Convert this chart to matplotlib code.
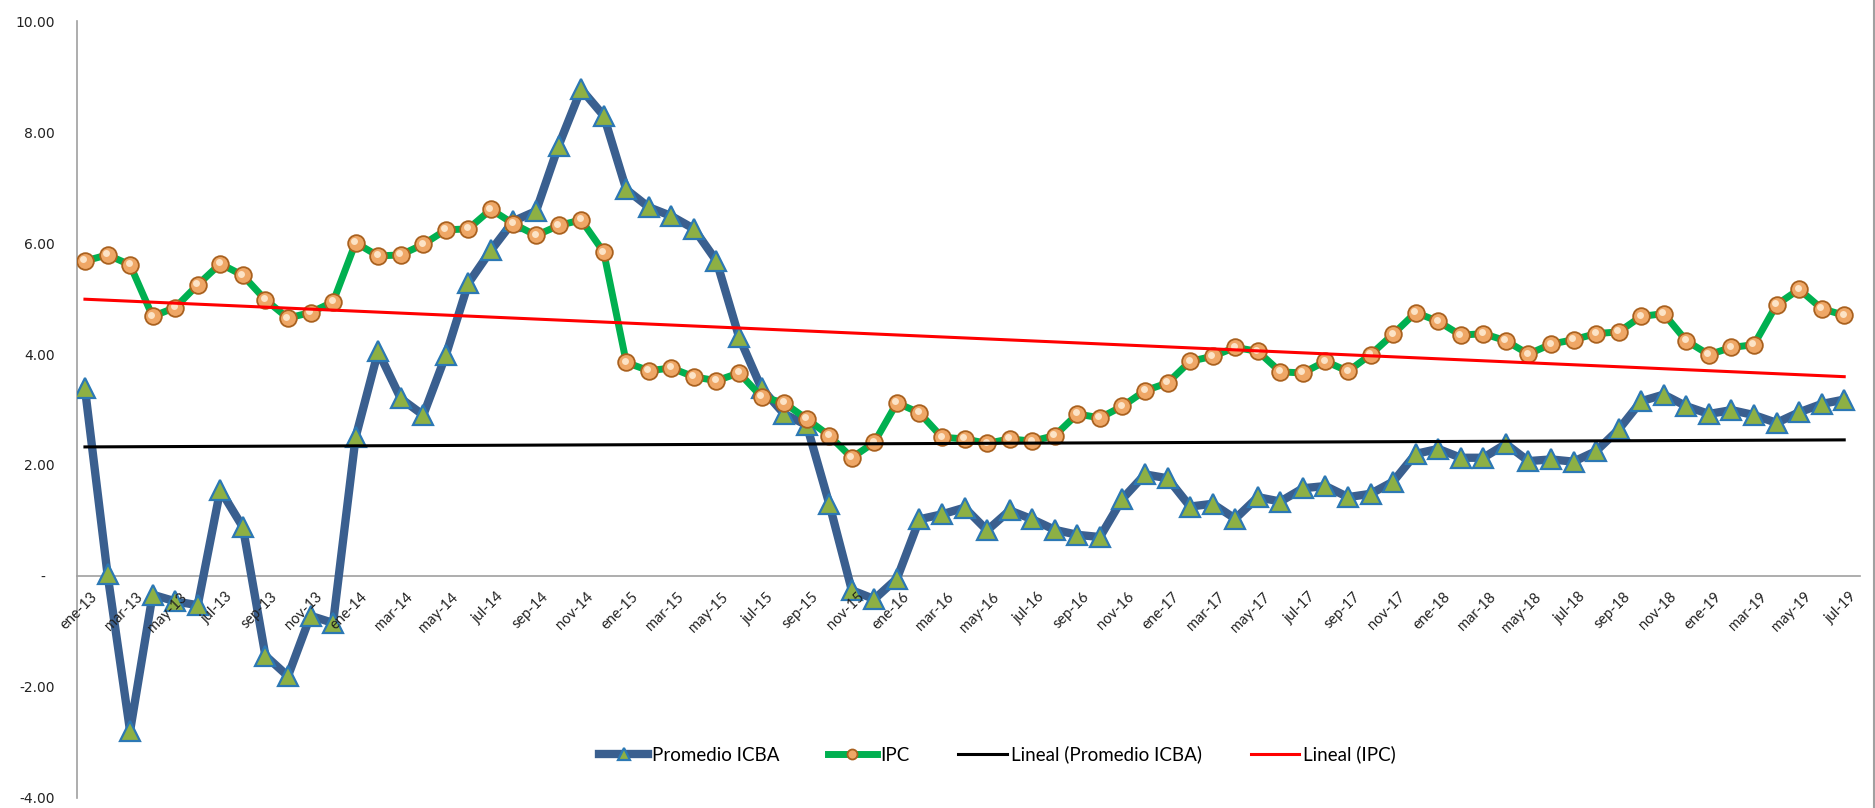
import numpy as np
import matplotlib
matplotlib.use("Agg")
import matplotlib.pyplot as plt
from matplotlib.transforms import ScaledTranslation

meses = ["ene", "feb", "mar", "abr", "may", "jun", "jul", "ago", "sep", "oct", "nov", "dic"]
categorias = [f"{meses[i % 12]}-{13 + i // 12}" for i in range(79)]

icba = [3.38, 0.03, -2.80, -0.34, -0.46, -0.53, 1.55, 0.88, -1.44, -1.81, -0.72, -0.85,
        2.50, 4.05, 3.20, 2.90, 3.98, 5.28, 5.87, 6.40, 6.58, 7.76, 8.78, 8.30,
        6.97, 6.65, 6.49, 6.26, 5.68, 4.31, 3.38, 2.92, 2.72, 1.30, -0.26, -0.42,
        -0.05, 1.02, 1.11, 1.23, 0.82, 1.18, 1.02, 0.83, 0.74, 0.70, 1.39, 1.83,
        1.76, 1.25, 1.30, 1.03, 1.42, 1.34, 1.58, 1.62, 1.42, 1.48, 1.70, 2.20,
        2.29, 2.13, 2.13, 2.38, 2.07, 2.10, 2.06, 2.25, 2.64, 3.15, 3.27, 3.06,
        2.92, 2.99, 2.90, 2.76, 2.95, 3.10, 3.18]

ipc = [5.68, 5.79, 5.61, 4.68, 4.84, 5.25, 5.63, 5.42, 4.98, 4.65, 4.75, 4.94,
       6.01, 5.77, 5.79, 5.98, 6.24, 6.26, 6.61, 6.35, 6.14, 6.32, 6.42, 5.84,
       3.85, 3.70, 3.75, 3.59, 3.52, 3.66, 3.23, 3.12, 2.83, 2.53, 2.13, 2.41,
       3.12, 2.94, 2.50, 2.47, 2.39, 2.47, 2.43, 2.53, 2.92, 2.85, 3.06, 3.34,
       3.48, 3.87, 3.96, 4.12, 4.05, 3.68, 3.66, 3.87, 3.69, 3.99, 4.36, 4.75,
       4.59, 4.34, 4.37, 4.24, 4.00, 4.18, 4.26, 4.37, 4.40, 4.68, 4.73, 4.24,
       3.99, 4.12, 4.17, 4.89, 5.17, 4.82, 4.70]

y_ticks = [-4, -2, 0, 2, 4, 6, 8, 10]
y_labels = ["-4.00", "-2.00", "-  ", "2.00", "4.00", "6.00", "8.00", "10.00"]

x = np.arange(len(categorias))
dpi = 100
fig = plt.figure(figsize=(18.75, 8.08), dpi=dpi)
ax = fig.add_axes([0.0411, 0.0129, 0.9509, 0.9605])

ax.plot(x, icba, color="#3A5F8F", lw=6.0, solid_joinstyle="round", zorder=3,
        marker="^", markersize=15, markerfacecolor="#8DB044",
        markeredgecolor="#2C78B4", markeredgewidth=1.6, label="Promedio ICBA")
ax.plot(x, ipc, color="#00B050", lw=5.0, zorder=4,
        marker="o", markersize=12, markerfacecolor="#EFA766",
        markeredgecolor="#A9611F", markeredgewidth=1.3, label="IPC")
hl = ScaledTranslation(-1.5 / dpi, 1.5 / dpi, fig.dpi_scale_trans)
ax.plot(x, ipc, ls="none", marker="o", markersize=5, markerfacecolor="#FCE3C6",
        markeredgewidth=0, zorder=4.5, transform=ax.transData + hl)

c1 = np.polyfit(x, icba, 1)
c2 = np.polyfit(x, ipc, 1)
ax.plot(x, np.polyval(c1, x), color="black", lw=2.2, zorder=5, label="Lineal (Promedio ICBA)")
ax.plot(x, np.polyval(c2, x), color="#FF0000", lw=2.2, zorder=5, label="Lineal (IPC)")

ax.set_xlim(-0.35, 78.7)
ax.set_ylim(-4, 10)
ax.set_yticks(y_ticks)
ax.set_yticklabels(y_labels, fontsize=10, family="DejaVu Sans", color="#222222")
ax.tick_params(axis="y", length=0, pad=16)

ax.set_xticks([])
off = ScaledTranslation(5 / dpi, -14 / dpi, fig.dpi_scale_trans)
for xi, lab in zip(x[::2], categorias[::2]):
    ax.text(xi, 0, lab, rotation=45, ha="right", va="top", rotation_mode="anchor",
            fontsize=10.5, family="Lato", color="#222222",
            transform=ax.transData + off, zorder=6)

for s in ["top", "right"]:
    ax.spines[s].set_visible(False)
ax.spines["bottom"].set_position(("data", 0))
ax.spines["bottom"].set_color("#A0A0A0")
ax.spines["left"].set_color("#A0A0A0")
ax.spines["bottom"].set_linewidth(1.2)
ax.spines["left"].set_linewidth(1.2)

fig.add_artist(plt.Line2D([0.9993, 0.9993], [0, 1], color="#A0A0A0", lw=1.5,
                          transform=fig.transFigure))

leg = fig.legend(loc="center", bbox_to_anchor=(0.532, 0.066), ncol=4, frameon=False,
                 prop={"family": "Lato", "size": 13.5}, handlelength=2.6,
                 handletextpad=0.2, columnspacing=2.6, markerscale=0.6)

fig.savefig("out.png", dpi=dpi)
